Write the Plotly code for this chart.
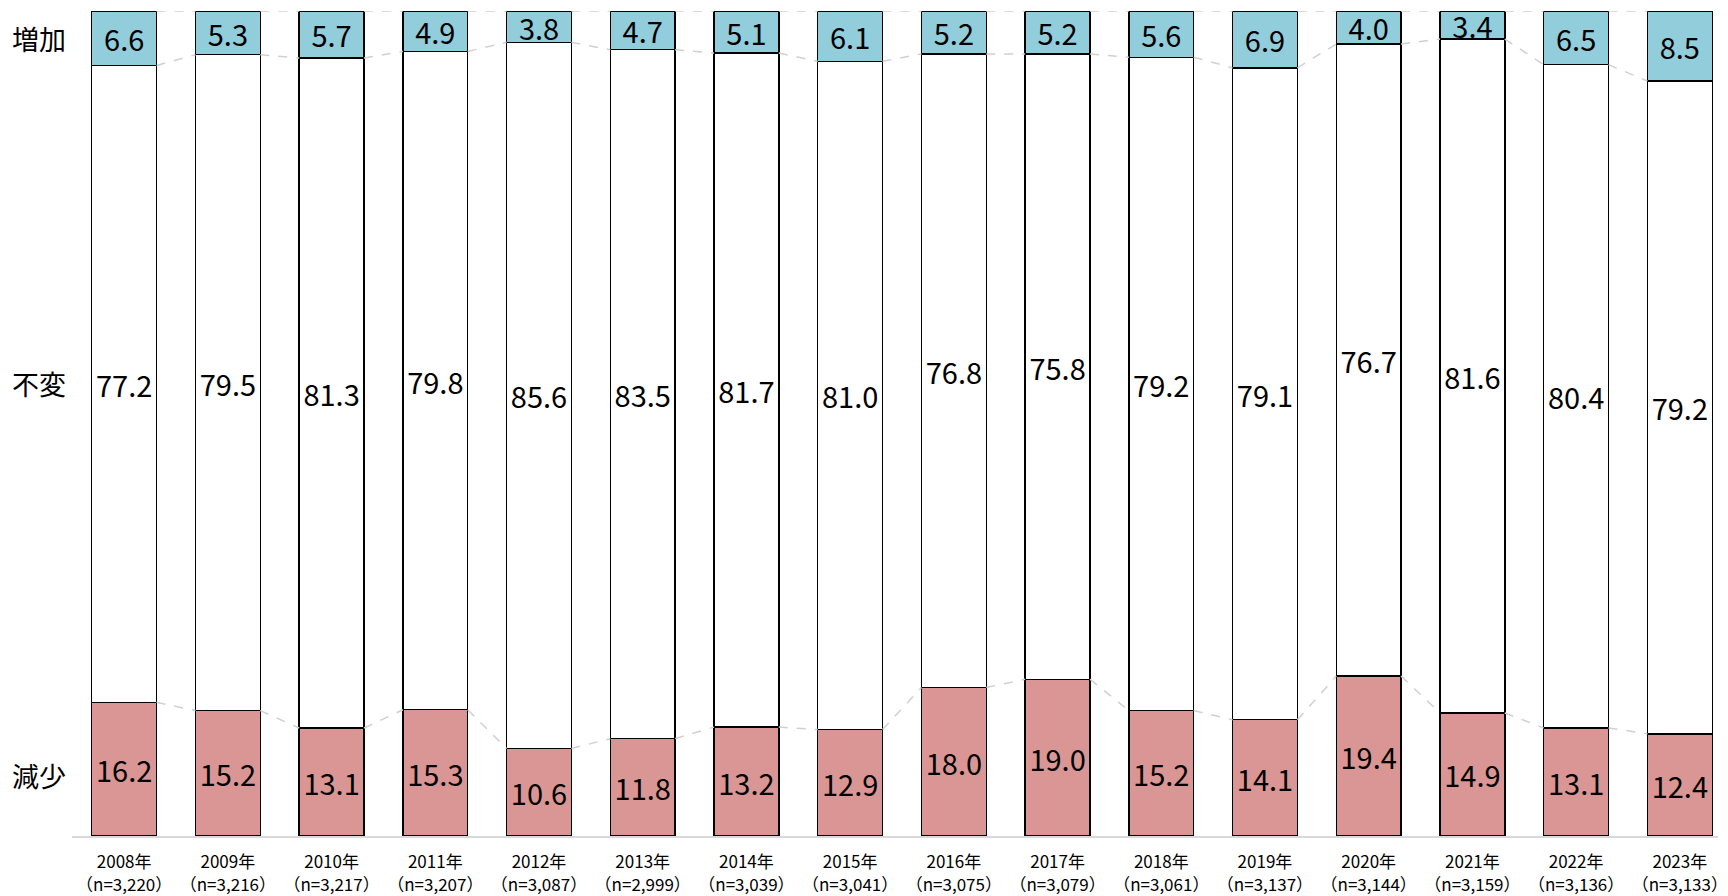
import plotly.graph_objects as go

years = ["2008年", "2009年", "2010年", "2011年", "2012年", "2013年", "2014年", "2015年",
         "2016年", "2017年", "2018年", "2019年", "2020年", "2021年", "2022年", "2023年"]
n_counts = ["3,220", "3,216", "3,217", "3,207", "3,087", "2,999", "3,039", "3,041",
            "3,075", "3,079", "3,061", "3,137", "3,144", "3,159", "3,136", "3,133"]
increase = [6.6, 5.3, 5.7, 4.9, 3.8, 4.7, 5.1, 6.1, 5.2, 5.2, 5.6, 6.9, 4.0, 3.4, 6.5, 8.5]
unchanged = [77.2, 79.5, 81.3, 79.8, 85.6, 83.5, 81.7, 81.0, 76.8, 75.8, 79.2, 79.1, 76.7, 81.6, 80.4, 79.2]
decrease = [16.2, 15.2, 13.1, 15.3, 10.6, 11.8, 13.2, 12.9, 18.0, 19.0, 15.2, 14.1, 19.4, 14.9, 13.1, 12.4]
series_names = ["減少", "不変", "増加"]

FONT = "Noto Sans CJK JP"
BAR_W = 0.625
xs = list(range(len(years)))
ticktext = [f"{y}<br>（n={n}）" for y, n in zip(years, n_counts)]

colors = {"減少": "#D99694", "不変": "#FFFFFF", "増加": "#92CDDC"}
values = {"減少": decrease, "不変": unchanged, "増加": increase}

fig = go.Figure()
for name in series_names:
    vals = values[name]
    fig.add_trace(go.Bar(
        x=xs, y=vals, name=name, width=BAR_W,
        marker=dict(color=colors[name], line=dict(color="#000000", width=1.4)),
        text=[f"{v:.1f}" for v in vals], texttemplate="%{text}",
        textposition="inside", insidetextanchor="middle", constraintext="none",
        textangle=0,
        textfont=dict(family=FONT, size=29, color="#000000"),
        hoverinfo="skip", showlegend=False,
    ))

# series (connector) lines between stacked boundaries, normalized to 100%
totals = [a + b + c for a, b, c in zip(decrease, unchanged, increase)]
levels = [
    [d / t * 100 for d, t in zip(decrease, totals)],
    [(d + u) / t * 100 for d, u, t in zip(decrease, unchanged, totals)],
    [100.0 for _ in totals],
]
lx, ly = [], []
for lev in levels:
    for i in range(len(xs) - 1):
        lx += [xs[i] + BAR_W / 2, xs[i + 1] - BAR_W / 2, None]
        ly += [lev[i], lev[i + 1], None]
fig.add_trace(go.Scatter(x=lx, y=ly, mode="lines",
                         line=dict(color="#D0D0D0", width=1.5, dash="dash"),
                         hoverinfo="skip", showlegend=False))

label_y = {"増加": 0.967, "不変": 0.548, "減少": 0.073}
for name in series_names:
    fig.add_annotation(text=name, xref="paper", yref="paper", x=0, y=label_y[name],
                       xanchor="right", yanchor="middle", xshift=-4, showarrow=False,
                       font=dict(family=FONT, size=27, color="#000000"))

fig.update_layout(
    width=1728, height=896,
    margin=dict(l=72, r=0, t=11, b=58),
    barmode="stack", barnorm="percent",
    plot_bgcolor="#FFFFFF", paper_bgcolor="#FFFFFF",
    uniformtext=dict(minsize=29, mode="show"),
    font=dict(family=FONT, color="#000000"),
    xaxis=dict(range=[-0.503, 15.368], tickvals=xs, ticktext=ticktext,
               showgrid=False, zeroline=False, showline=True, linecolor="#D9D9D9",
               linewidth=2, ticks="", ticklabeloverflow="allow", ticklabelstandoff=10,
               tickfont=dict(family=FONT, size=17, color="#000000")),
    yaxis=dict(range=[0, 100], showgrid=False, zeroline=False, showline=False,
               showticklabels=False, ticks=""),
)

fig.write_html("out.html")
